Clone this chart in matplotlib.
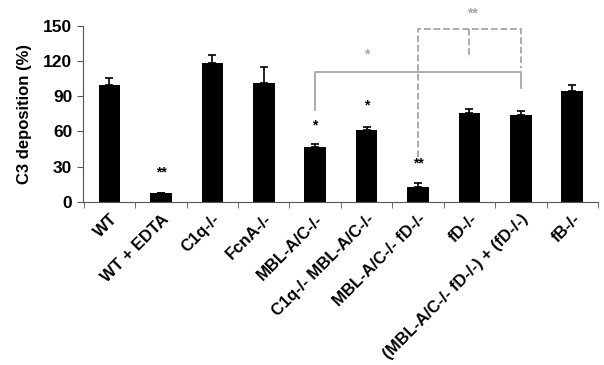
import matplotlib.pyplot as plt
import numpy as np

plt.rcParams['font.family'] = ['Liberation Sans', 'DejaVu Sans']
plt.rcParams['font.weight'] = 'bold'

# Data
groups = ['WT', 'WT + EDTA', 'C1q-/-', 'FcnA-/-', 'MBL-A/C-/-', 'C1q-/- MBL-A/C-/-',
          'MBL-A/C-/- fD-/-', 'fD-/-', '(MBL-A/C-/- fD-/-) + (fD-/-)', 'fB-/-']
deposition = [100, 7.5, 118, 101, 46.5, 61.5, 13, 76, 74, 94.5]
err = [6, 0, 7.5, 14, 2.5, 2.5, 3, 3.5, 3.5, 5]
stars = ['', '**', '', '', '*', '*', '**', '', '', '']
star_y = [0, 19, 0, 0, 59, 76, 27, 0, 0, 0]

fig, ax = plt.subplots(figsize=(6.04, 3.65), dpi=100)
fig.subplots_adjust(left=0.137, right=0.99, bottom=0.447, top=0.929)

x = np.arange(len(groups))
ax.bar(x, deposition, width=0.42, color='black')
ax.errorbar(x, deposition, yerr=[np.zeros(len(err)), err], fmt='none',
            ecolor='black', elinewidth=1.2, capsize=3, capthick=1.2)

for i, s in enumerate(stars):
    if s:
        ax.text(x[i], star_y[i], s, ha='center', va='bottom', fontsize=10, color='black')

# solid bracket MBL-A/C-/- vs combo
grey = '#a6a6a6'
ax.plot([4, 4, 8, 8], [78, 111, 111, 97], color=grey, lw=1.3, clip_on=False)
ax.text(5, 120, '*', ha='center', va='bottom', fontsize=10, color=grey)
# dashed bracket MBL-A/C-/- fD-/- vs fD-/- and combo
ax.plot([6, 6, 8, 8], [38, 147, 147, 114], color=grey, lw=1.3, ls='--', clip_on=False)
ax.plot([7, 7], [147, 123], color=grey, lw=1.3, ls='--', clip_on=False)
ax.text(7.05, 155, '**', ha='center', va='bottom', fontsize=10, color=grey, clip_on=False)

ax.set_xlim(-0.52, 9.5)
ax.set_ylim(0, 150)
ax.set_yticks([0, 30, 60, 90, 120, 150])
ax.set_xticks(x)
ax.set_xticklabels(groups, rotation=45, ha='right', rotation_mode='anchor', fontsize=12)
ax.set_xticks(np.arange(-0.5, 10, 1), minor=True)
ax.tick_params(axis='x', which='major', length=0, pad=7)
ax.tick_params(axis='x', which='minor', length=4, direction='out', color='#555555')
ax.tick_params(axis='y', labelsize=12.5, length=4, color='#555555')
ax.set_ylabel('C3 deposition (%)', fontsize=12, fontweight='bold', labelpad=8)

for side in ['top', 'right']:
    ax.spines[side].set_visible(False)
for side in ['left', 'bottom']:
    ax.spines[side].set_color('#555555')

fig.savefig('out.png', dpi=100)
